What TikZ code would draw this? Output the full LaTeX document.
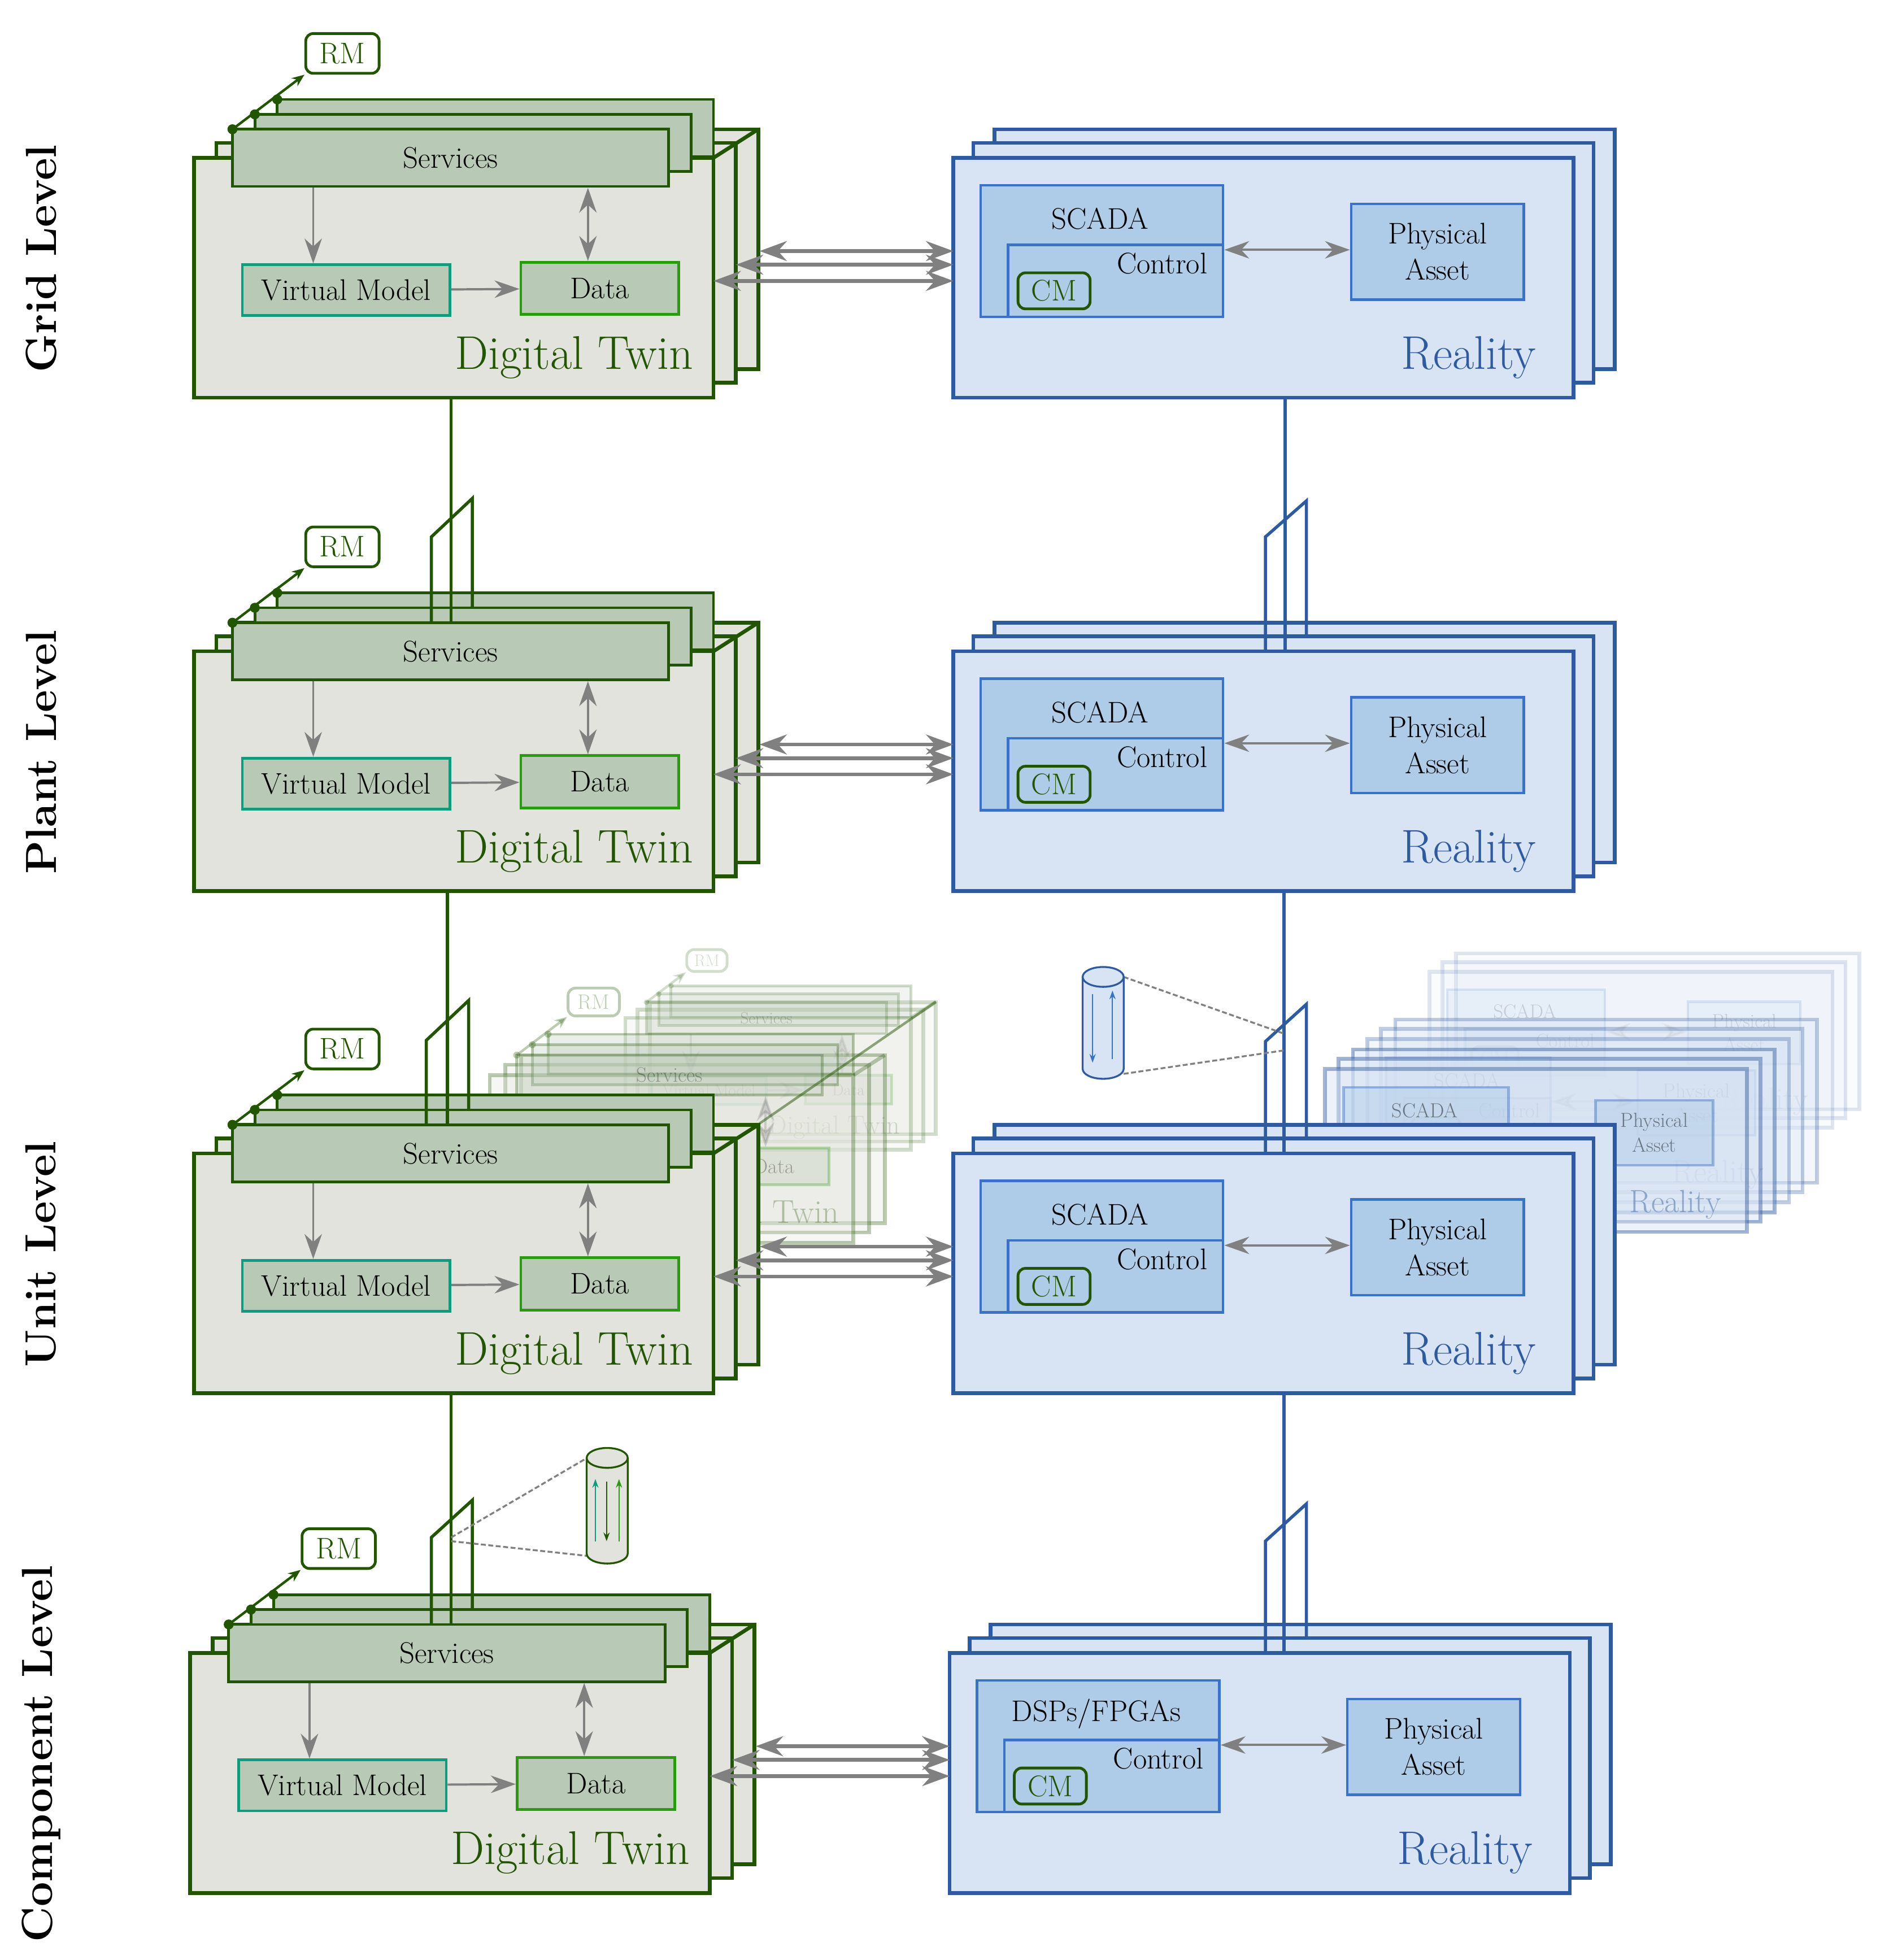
\documentclass[tikz,border=0pt]{standalone}
\usetikzlibrary{arrows.meta}
\definecolor{dtfill}{HTML}{E2E3DC}
\definecolor{dtd}{HTML}{225500}
\definecolor{svcf}{HTML}{B8C9B5}
\definecolor{vmd}{HTML}{109A80}
\definecolor{datad}{HTML}{2A9A10}
\definecolor{rfill}{HTML}{D8E3F3}
\definecolor{rd}{HTML}{2E5AA0}
\definecolor{bf}{HTML}{AECBE8}
\definecolor{bd}{HTML}{3A72C8}
\definecolor{gr}{HTML}{808080}
\newcommand\DspFpga{DSPs/FPGAs}
\newcommand\fsm{\fontsize{24}{28}\selectfont}
\newcommand\fbig{\fontsize{38}{42}\selectfont}
\newcommand\flab{\fontsize{35}{40}\selectfont}
\tikzset{
 dtl/.style={draw=dtd,line width=3pt,fill=dtfill},
 xsvc/.style={draw=dtd,line width=2.2pt,fill=svcf,minimum width=351pt,minimum height=46pt,inner sep=0pt,font=\fsm},
 xvm/.style={draw=vmd,line width=2.2pt,fill=svcf,minimum width=167pt,minimum height=41pt,inner sep=0pt,font=\fsm},
 xdata/.style={draw=datad,line width=2.2pt,fill=svcf,minimum width=127pt,minimum height=42pt,inner sep=0pt,font=\fsm},
 xrm/.style={draw=dtd,line width=2.2pt,fill=white,rounded corners=6pt,minimum width=59pt,minimum height=32pt,inner sep=0pt,font=\fsm,text=dtd},
 xcm/.style={draw=dtd,line width=2.2pt,fill=bf,rounded corners=6pt,minimum width=58pt,minimum height=29pt,inner sep=0pt,font=\fsm,text=dtd},
 rl/.style={draw=rd,line width=3pt,fill=rfill},
 rbox/.style={draw=bd,line width=2pt,fill=bf,inner sep=0pt},
 ga/.style={draw=gr,line width=1.8pt,-{Stealth[length=20pt,width=14pt]}},
 gab/.style={draw=gr,line width=1.8pt,{Stealth[length=20pt,width=14pt]}-{Stealth[length=20pt,width=14pt]}},
 gbig/.style={draw=gr,line width=3pt,{Stealth[length=22pt,width=16pt]}-{Stealth[length=22pt,width=16pt]}},
 dtc/.style={draw=dtd,line width=2.5pt},
 rc/.style={draw=rd,line width=2.5pt},
 dtgroup/.pic={
  \draw[dtl] (36,-23) rectangle ++(418,193);
  \draw[dtl] (18,-12) rectangle ++(418,193);
  \draw[dtl] (0,0) rectangle (418,193);
  \draw[draw=dtd,line width=3pt] (418,0) -- (454,-23);
  \node[xsvc] at (242.5,-24) {};
  \node[xsvc] at (224.5,-12) {};
  \node[xsvc] (-svc) at (206.5,0) {Services};
  \node[xrm] (-rm) at (119.5,-84) {RM};
  \fill[dtd] (31,-23) circle (4pt) (49,-35) circle (4pt) (67,-47) circle (4pt);
  \draw[draw=dtd,line width=2pt,-{Stealth[length=10pt,width=8pt]}] (31,-23) -- (-rm.south west);
  \node[xvm] (-vm) at (122.5,106.5) {Virtual Model};
  \node[xdata] (-data) at (326.5,105) {Data};
  \draw[ga] (-svc.south -| 96,0) -- (-vm.north -| 96,0);
  \draw[gab] (-svc.south -| 317,0) -- (-data.north -| 317,0);
  \draw[ga] (-vm) -- (-data);
  \node[anchor=base east,font=\fbig,text=dtd,inner sep=0pt] at (402,170) {Digital Twin};
 },
 rgroup/.pic={
  \draw[rl] (33,-23) rectangle ++(499,193);
  \draw[rl] (16,-12) rectangle ++(499,193);
  \draw[rl] (0,0) rectangle (499,193);
  \node[rbox,minimum width=195pt,minimum height=106pt] (-sc) at (119.5,75) {};
  \node[font=\fsm] at (118,49) {#1};
  \node[rbox,minimum width=173pt,minimum height=58pt] (-ct) at (130.5,99) {};
  \node[font=\fsm] at (168,85) {Control};
  \node[xcm] at (81,107) {CM};
  \node[rbox,minimum width=139pt,minimum height=77pt,align=center,font=\fsm,text=black] (-pa) at (389.5,75.5) {Physical\\[1pt]Asset};
  \draw[gab] (-sc.east |- 0,74) -- (-pa.west |- 0,74);
  \node[anchor=base east,font=\fbig,text=rd,inner sep=0pt] at (469,170) {Reality};
 }
}
\begin{document}
\begin{tikzpicture}[x=1pt,y=-1pt]
\useasboundingbox (0,0) rectangle (1530,1577);
% faded copies
\pic[scale=0.65,transform shape,opacity=0.15] at (1150,782) {rgroup=SCADA};
\pic[scale=0.68,transform shape,opacity=0.3] at (1100,836) {rgroup=SCADA};
\pic[scale=0.68,transform shape,opacity=0.45] at (1066,860) {rgroup=SCADA};
\pic[scale=0.55,transform shape,opacity=0.2] at (503,819) {dtgroup};
\pic[scale=0.7,transform shape,opacity=0.3] at (394,865) {dtgroup};
\draw[draw=dtd,line width=2pt,opacity=0.5] (611,904) -- (753,806);
% main groups
\foreach \X/\Y/\RX/\lab/\ct in {156/127/767/Grid Level/SCADA,156/524/767/Plant Level/SCADA,156/928/767/Unit Level/SCADA,153/1330/764/Component Level/\DspFpga}{
 \pic (dt) at (\X,\Y) {dtgroup};
 \pic (rr) at (\RX,\Y) {rgroup=\ct};
 \coordinate (a1) at (\X+455,\Y+75); \coordinate (b1) at (\RX,\Y+75);
 \coordinate (a2) at (\X+436,\Y+86); \coordinate (b2) at (\RX,\Y+86);
 \coordinate (a3) at (\X+418,\Y+99); \coordinate (b3) at (\RX,\Y+99);
 \draw[gbig] (a1) -- (b1);
 \draw[gbig] (a2) -- (b2);
 \draw[gbig] (a3) -- (b3);
 \node[rotate=90,font=\flab\bfseries] at (33,\Y+81) {\lab};
}
% vertical connectors
\draw[dtc] (363,320) -- (363,501);
\draw[dtc] (347,501)--(347,432)--(380,401)--(380,489);
\draw[dtc] (360,717) -- (360,905);
\draw[dtc] (343,905)--(343,837)--(377,805)--(377,893);
\draw[dtc] (363,1121) -- (363,1307);
\draw[dtc] (347,1307)--(347,1237)--(380,1207)--(380,1295);
\draw[rc] (1034,320) -- (1034,524);
\draw[rc] (1018,524)--(1018,432)--(1051,403)--(1051,512);
\draw[rc] (1033,717) -- (1033,928);
\draw[rc] (1018,928)--(1018,838)--(1051,808)--(1051,916);
\draw[rc] (1033,1121) -- (1033,1330);
\draw[rc] (1018,1330)--(1018,1240)--(1051,1210)--(1051,1318);
% blue cylinder
\draw[gr,dash pattern=on 4pt off 2pt,line width=1.5pt] (904,786) -- (1034,832) (904,864) -- (1034,845);
\draw[rd,line width=1.5pt,fill=rfill] (871,786) -- (871,860) arc[start angle=180,end angle=0,x radius=16.5,y radius=8] -- (904,786);
\draw[rd,line width=1.5pt,fill=rfill] (887.5,786) ellipse [x radius=16.5,y radius=8];
\draw[bd,line width=1pt,-{Stealth[length=7pt,width=5pt]}] (879,800) -- (879,855);
\draw[bd,line width=1pt,-{Stealth[length=7pt,width=5pt]}] (895,852) -- (895,797);
% green cylinder
\draw[gr,dash pattern=on 4pt off 2pt,line width=1.5pt] (363,1237) -- (474,1172) (363,1240) -- (474,1252);
\draw[dtd,line width=1.5pt,fill=dtfill] (472,1173) -- (472,1250) arc[start angle=180,end angle=0,x radius=16.5,y radius=8] -- (505,1173);
\draw[dtd,line width=1.5pt,fill=dtfill] (488.5,1173) ellipse [x radius=16.5,y radius=8];
\draw[vmd,line width=1pt,-{Stealth[length=7pt,width=5pt]}] (479,1240) -- (479,1190);
\draw[dtd,line width=1pt,-{Stealth[length=7pt,width=5pt]}] (488,1192) -- (488,1240);
\draw[datad,line width=1pt,-{Stealth[length=7pt,width=5pt]}] (498,1240) -- (498,1190);
\end{tikzpicture}
\end{document}
